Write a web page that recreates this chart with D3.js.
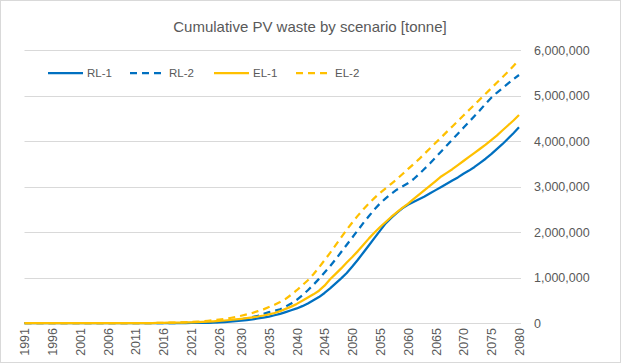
<!DOCTYPE html>
<html><head><meta charset="utf-8">
<script src="https://cdn.jsdelivr.net/npm/d3@7"></script>
<style>html,body{margin:0;padding:0;background:#fff;}</style>
</head><body>
<svg id="c" width="621" height="363"></svg>
<script>
// Years (categories)
const startYear = 1991, endYear = 2080;
const years = d3.range(startYear, endYear + 1);
const tickYears = [1991,1996,2001,2006,2011,2016,2021,2026,2030,2035,2040,2045,2050,2055,2060,2065,2070,2075,2080];
const yTicks = [0,1000000,2000000,3000000,4000000,5000000,6000000];

// Series values in thousand tonnes, 1991..2080
const RL1 = [0,0,0,0,0,0,0,0,0,0, 0,0,0,0,0,0,0,0,0,0, 0,0,0,0,0,0,0,0,0,0,
  1,2,3,5,8,12,20,30,40,50, 65,80,100,120,140,170,200,240,280,320,
  370,430,500,570,660,760,870,980,1100,1240, 1390,1550,1710,1870,2030,2190,2310,2420,2520,2600,
  2660,2720,2780,2850,2920,2990,3060,3130,3200,3280, 3350,3430,3520,3610,3710,3820,3930,4050,4170,4300];
const RL2 = [0,0,0,0,0,0,0,0,0,0, 0,0,0,0,0,0,0,0,0,0, 0,0,0,0,0,0,0,0,0,2,
  4,6,9,13,18,25,35,50,65,80, 100,130,160,200,240,270,300,360,430,510,
  610,720,840,970,1110,1250,1400,1560,1720,1880, 2040,2200,2350,2500,2630,2740,2840,2930,3000,3070,
  3160,3270,3390,3510,3640,3770,3900,4030,4160,4290, 4420,4550,4680,4820,4950,5060,5160,5260,5360,5450];
const EL1 = [0,0,0,0,0,0,0,0,0,0, 0,0,0,0,0,0,0,0,0,0, 0,0,0,0,2,4,6,8,10,13,
  16,20,25,31,38,46,55,66,78,92, 107,124,143,165,190,220,260,310,360,420,
  490,560,630,710,820,960,1080,1200,1330,1450, 1580,1720,1860,1990,2110,2220,2330,2430,2530,2620,
  2720,2820,2920,3020,3120,3220,3300,3380,3470,3560, 3650,3740,3830,3920,4020,4120,4230,4340,4450,4570];
const EL2 = [0,0,0,0,0,0,0,0,0,0, 0,0,0,0,0,0,0,0,0,0, 0,0,0,0,2,4,6,9,12,16,
  21,28,37,48,60,75,90,110,130,160, 190,220,260,300,350,400,460,530,620,720,
  830,940,1070,1220,1380,1540,1710,1880,2050,2210, 2360,2500,2630,2750,2860,2960,3060,3160,3270,3380,
  3490,3600,3720,3840,3960,4080,4200,4320,4440,4560, 4680,4800,4920,5040,5160,5280,5400,5520,5650,5780];

const seriesNames = ["RL-1","RL-2","EL-1","EL-2"];
const seriesValues = [RL1, RL2, EL1, EL2];
const seriesColors = ["#0070C0","#0070C0","#FFC000","#FFC000"];
const seriesDash = [null,"7,5",null,"7,5"];

const svg = d3.select("#c");
const font = "'Liberation Sans', Arial, sans-serif";
const textColor = "#595959";

// chart area border
svg.append("rect").attr("x",0.5).attr("y",0.5).attr("width",620).attr("height",362)
  .attr("fill","#fff").attr("stroke","#d9d9d9");

const plotL = 24.5, plotR = 519, plotT = 50, plotB = 323;
const x = d3.scalePoint().domain(years).range([plotL, plotR]);
const y = d3.scaleLinear().domain([0, 6000000]).range([plotB, plotT]);

// gridlines
svg.append("g").selectAll("line").data(yTicks).join("line")
  .attr("x1", plotL).attr("x2", plotR + 2)
  .attr("y1", d => Math.round(y(d)) + 0.5).attr("y2", d => Math.round(y(d)) + 0.5)
  .attr("stroke", "#d9d9d9").attr("stroke-width", 1);

// right y axis labels
const yAxis = d3.axisRight(y).tickValues(yTicks).tickSize(0).tickPadding(0)
  .tickFormat(d => d3.format(",")(d));
const gy = svg.append("g").attr("transform", `translate(534,0)`).call(yAxis);
gy.select(".domain").remove();
gy.selectAll("text").attr("font-family", font).attr("font-size", 12.5).attr("fill", textColor);

// x axis labels (rotated)
const xAxis = d3.axisBottom(x).tickValues(tickYears).tickSize(0).tickPadding(0);
const gx = svg.append("g").attr("transform", `translate(0,${plotB})`).call(xAxis);
gx.select(".domain").remove();
gx.selectAll("text")
  .attr("font-family", font).attr("font-size", 12.5).attr("fill", textColor)
  .attr("transform", "rotate(-90)")
  .attr("text-anchor", "end").attr("x", -5).attr("y", 0).attr("dy", "0.35em");

// lines
const line = d3.line().x((d, i) => x(years[i])).y(d => y(d * 1000));
const order = [0,1,2,3];
svg.append("g").selectAll("path").data(order).join("path")
  .attr("d", i => line(seriesValues[i]))
  .attr("fill", "none")
  .attr("stroke", i => seriesColors[i])
  .attr("stroke-width", 2.25)
  .attr("stroke-dasharray", i => seriesDash[i])
  .attr("stroke-linejoin", "round");

// title
svg.append("text").attr("x", 310).attr("y", 32).attr("text-anchor", "middle")
  .attr("font-family", font).attr("font-size", 15).attr("fill", textColor)
  .text("Cumulative PV waste by scenario [tonne]");

// legend
const legX = [48, 130, 214, 296];
const lg = svg.append("g").selectAll("g").data(order).join("g")
  .attr("transform", i => `translate(${legX[i]},73)`);
lg.append("line").attr("x1", 0).attr("x2", 35).attr("y1", 0).attr("y2", 0)
  .attr("stroke", i => seriesColors[i]).attr("stroke-width", 2.25)
  .attr("stroke-dasharray", i => seriesDash[i]);
lg.append("text").attr("x", 39).attr("y", 0).attr("dy", "0.35em")
  .attr("font-family", font).attr("font-size", 11.5).attr("fill", textColor)
  .text(i => seriesNames[i]);
</script>
</body></html>
